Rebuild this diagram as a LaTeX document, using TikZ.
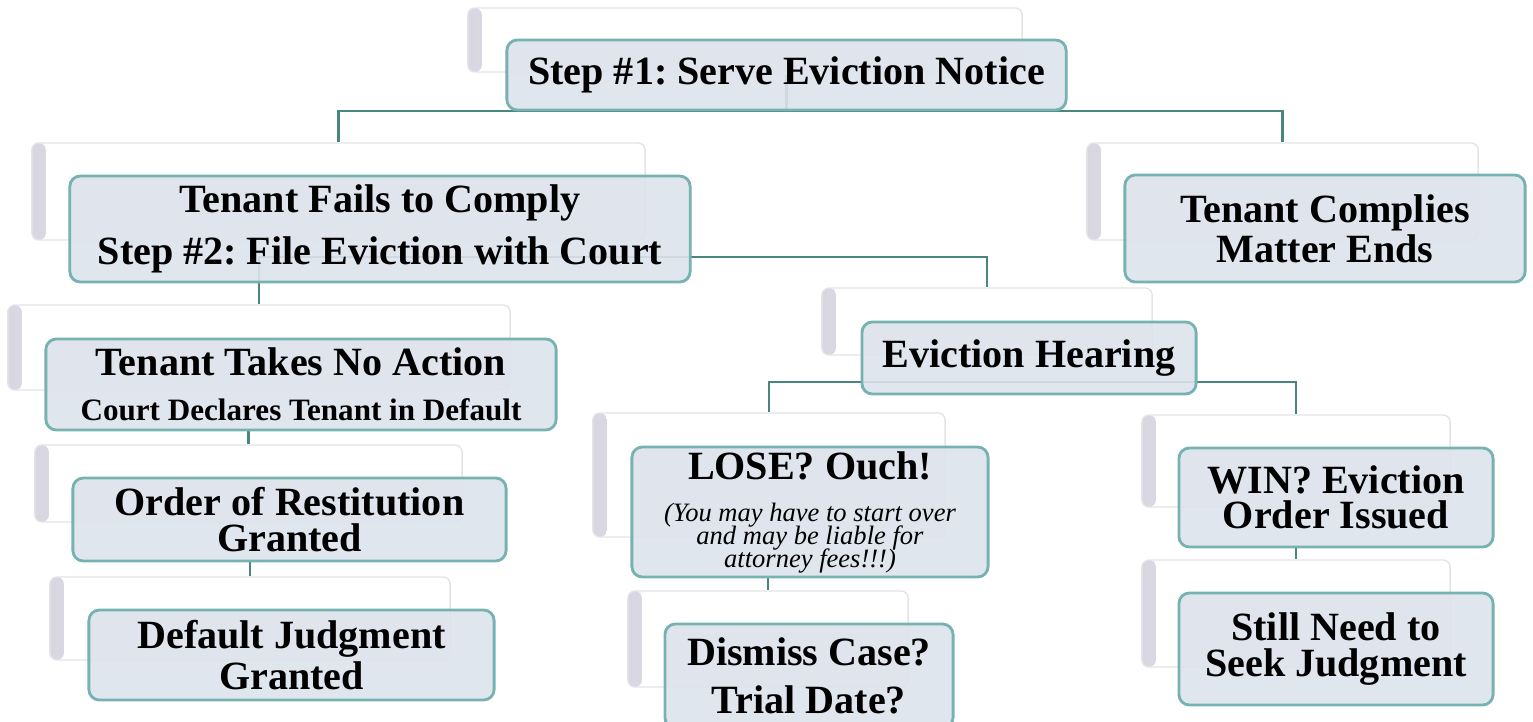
\documentclass[tikz,border=0pt]{standalone}
\usepackage{fontspec}
\setmainfont{Liberation Serif}
\usetikzlibrary{backgrounds}
\frenchspacing

\definecolor{boxfill}{RGB}{221,227,236}
\definecolor{boxedge}{RGB}{118,178,176}
\definecolor{linkcol}{RGB}{74,134,128}
\definecolor{cardedge}{RGB}{228,228,232}
\definecolor{cardside}{RGB}{216,214,224}

\begin{document}
\begin{tikzpicture}[x=0.01cm, y=-0.01cm]
\tikzstyle{card} = [draw=cardedge, fill=white, rounded corners=2pt, inner sep=0pt,
  path picture={\shade[left color=cardside, right color=white]
    (path picture bounding box.south west) rectangle ([xshift=0.14cm]path picture bounding box.north west);}]
\tikzstyle{stepbox} = [draw=boxedge, line width=0.8pt, fill=boxfill, fill opacity=0.9, text opacity=1,
  rounded corners=3pt, inner sep=0pt, align=center, font=\bfseries\fontsize{11.4}{10}\selectfont]
\tikzstyle{link} = [draw=linkcol, line width=0.6pt]
\useasboundingbox (0,0) rectangle (1533,721);

% step 1
\node[card, minimum width=5.54cm, minimum height=0.64cm] (c1) at (745,40) {};
\node[stepbox, minimum width=5.59cm, minimum height=0.70cm] (n1) at (786.5,75) {Step \#1: Serve Eviction Notice};

% second row
\node[card, minimum width=6.13cm, minimum height=0.97cm] (c2) at (338.5,191.5) {};
\node[stepbox, minimum width=6.20cm, minimum height=1.06cm] (n2) at (380,229)
  {Tenant Fails to Comply\\[3.4pt]Step \#2: File Eviction with Court};
\node[card, minimum width=3.91cm, minimum height=0.97cm] (c3) at (1282.5,191.5) {};
\node[stepbox, minimum width=4.00cm, minimum height=1.07cm] (n3) at (1325,228.5)
  {Tenant Complies\\Matter Ends};

% default branch
\node[card, minimum width=5.02cm, minimum height=0.85cm] (c5) at (259,347.5) {};
\node[stepbox, minimum width=5.10cm, minimum height=0.91cm] (n5) at (301,384.5)
  {Tenant Takes No Action\\[2.8pt]\fontsize{8.85}{10}\selectfont Court Declares Tenant in Default};
\node[card, minimum width=4.27cm, minimum height=0.77cm] (c6) at (248.5,483.5) {};
\node[stepbox, minimum width=4.33cm, minimum height=0.83cm] (n6) at (289.5,519.5)
  {Order of Restitution\\Granted};
\node[card, minimum width=4.00cm, minimum height=0.83cm] (c7) at (250,618.5) {};
\node[stepbox, minimum width=4.05cm, minimum height=0.90cm] (n7) at (291.5,655)
  {Default Judgment\\Granted};

% hearing branch
\node[card, minimum width=3.30cm, minimum height=0.67cm] (c4) at (987,321.5) {};
\node[stepbox, minimum width=3.34cm, minimum height=0.72cm] (n4) at (1029,358) {Eviction Hearing};
\node[card, minimum width=3.52cm, minimum height=1.24cm] (c8) at (769,475) {};
\node[stepbox, minimum width=3.56cm, minimum height=1.30cm] (n8) at (810,512)
  {LOSE? Ouch!\\[2pt]\fontsize{7.55}{6.5}\selectfont\mdseries\itshape (You may have to start over\\[-3.5pt]
   \fontsize{7.55}{6.5}\selectfont\mdseries\itshape and may be liable for\\[-3.5pt]
   \fontsize{7.55}{6.5}\selectfont\mdseries\itshape attorney fees!!!)};
\node[card, minimum width=2.80cm, minimum height=0.96cm] (c9) at (768,639) {};
\node[stepbox, minimum width=2.88cm, minimum height=1.04cm] (n9) at (809,676)
  {Dismiss Case?\\[3.7pt]Trial Date?};
\node[card, minimum width=3.08cm, minimum height=0.92cm] (c10) at (1296,461) {};
\node[stepbox, minimum width=3.14cm, minimum height=0.99cm] (n10) at (1336,497.5)
  {WIN? Eviction\\Order Issued};
\node[card, minimum width=3.08cm, minimum height=1.07cm] (c11) at (1296,613.5) {};
\node[stepbox, minimum width=3.14cm, minimum height=1.12cm] (n11) at (1336,649)
  {Still Need to\\Seek Judgment};

% connectors
\begin{scope}[on background layer]
\draw[link] (n1.center) -- (n1.south) -| (c2.north);
\draw[link] (n1.south) -| (c3.north);
\coordinate (j2) at (380,257);
\draw[link] (c5.north) |- (j2) -| (c4.north);
\draw[link] (c6.north |- n5.south) -- (c6.north);
\draw[link] (c7.north |- n6.south) -- (c7.north);
\coordinate (j4) at (1029,382);
\draw[link] (c8.north) |- (j4) -| (c10.north);
\draw[link] (c9.north |- n8.south) -- (c9.north);
\draw[link] (c11.north |- n10.south) -- (c11.north);
\end{scope}
\end{tikzpicture}
\end{document}
